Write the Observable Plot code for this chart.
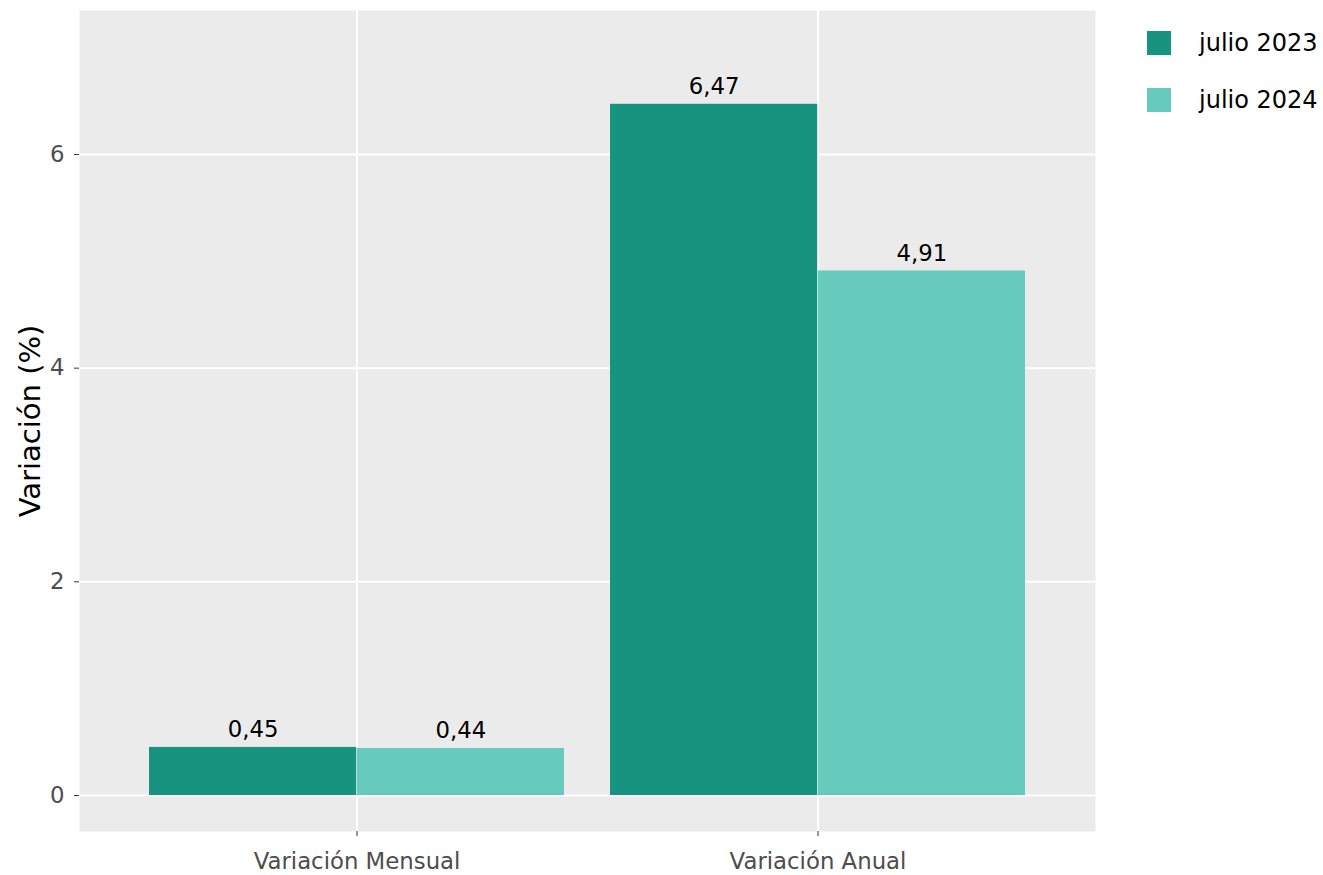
<!DOCTYPE html>
<html>
<head>
<meta charset="utf-8">
<script src="https://cdn.jsdelivr.net/npm/d3@7"></script>
<script src="https://cdn.jsdelivr.net/npm/@observablehq/plot@0.6"></script>
<style>
  html, body { margin: 0; padding: 0; background: white; }
  #wrap { position: relative; width: 1323px; height: 875px; font-family: "DejaVu Sans", sans-serif; }
  #legend { position: absolute; left: 1147px; top: 31px; font-size: 24px; color: black; }
  .row { display: flex; align-items: center; height: 24px; margin-bottom: 33px; }
  .sw { width: 24px; height: 24px; margin-right: 28px; }
</style>
</head>
<body>
<div id="wrap"><div id="chart"></div><div id="legend"></div></div>
<script>
const categorias = ["Variación Mensual", "Variación Anual"];
const series = ["julio 2023", "julio 2024"];
const valores2023 = [0.45, 6.47];
const valores2024 = [0.44, 4.91];
const colores = ["#17937F", "#66CABD"];
const yTicks = [0, 2, 4, 6];

const datos2023 = categorias.map((c, i) => ({cat: c, serie: series[0], valor: valores2023[i]}));
const datos2024 = categorias.map((c, i) => ({cat: c, serie: series[1], valor: valores2024[i]}));
const fmt = d => d.valor.toFixed(2).replace(".", ",");

const half = 207.8;

const chart = Plot.plot({
  width: 1323, height: 875,
  marginLeft: 79, marginRight: 228, marginTop: 10, marginBottom: 44,
  style: {fontFamily: "'DejaVu Sans'", background: "white", color: "#4D4D4D", fontSize: "22.8px"},
  x: {domain: categorias, paddingInner: 0.1, paddingOuter: 0.15, label: null},
  y: {domain: [-0.337, 7.348], label: null},
  color: {domain: series, range: colores},
  marks: [
    Plot.frame({fill: "#EBEBEB", stroke: null}),
    Plot.gridY(yTicks, {stroke: "white", strokeOpacity: 1, strokeWidth: 2}),
    Plot.gridX({stroke: "white", strokeOpacity: 1, strokeWidth: 2}),
    Plot.barY(datos2023, {x: "cat", y: "valor", fill: "serie", insetRight: half}),
    Plot.barY(datos2024, {x: "cat", y: "valor", fill: "serie", insetLeft: half}),
    Plot.text(datos2023, {x: "cat", y: "valor", text: fmt, dx: -half / 2, dy: -10, lineAnchor: "bottom", fill: "black", fontSize: 22.8}),
    Plot.text(datos2024, {x: "cat", y: "valor", text: fmt, dx: half / 2, dy: -10, lineAnchor: "bottom", fill: "black", fontSize: 22.8}),
    Plot.axisY(yTicks, {tickSize: 5, tickPadding: 10, stroke: "#333333", fontSize: 22.8, tickFormat: d3.format("d"), label: null}),
    Plot.axisX({tickSize: 5, tickPadding: 16, stroke: "#333333", fontSize: 22.8, label: null}),
    Plot.text(["Variación (%)"], {frameAnchor: "left", textAnchor: "middle", rotate: -90, dx: -49, fontSize: 29, fill: "black"})
  ]
});
document.getElementById("chart").appendChild(chart);

const legend = document.getElementById("legend");
series.forEach((s, i) => {
  const row = document.createElement("div");
  row.className = "row";
  row.innerHTML = `<div class="sw" style="background:${colores[i]}"></div><span>${s}</span>`;
  legend.appendChild(row);
});
</script>
</body>
</html>
